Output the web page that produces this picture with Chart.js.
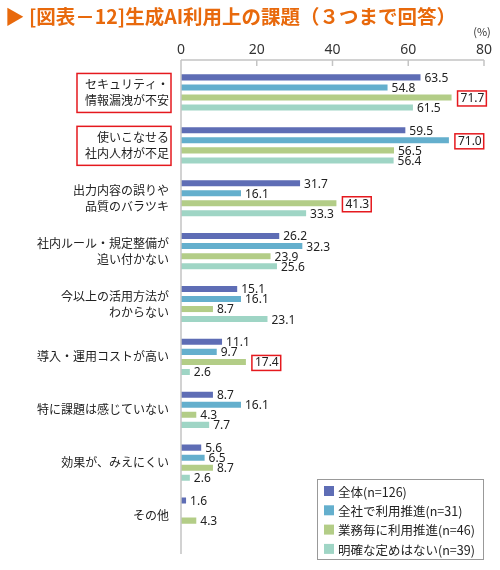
<!DOCTYPE html>
<html lang="ja">
<head>
<meta charset="utf-8">
<script src="https://cdn.jsdelivr.net/npm/chart.js@4.4.1/dist/chart.umd.min.js"></script>
<style>
  html, body { margin: 0; padding: 0; background: #fff; }
  #wrap { position: relative; width: 500px; height: 570px; }
  #title { position: absolute; left: 5px; top: 1px; font: bold 19.5px "Noto Sans CJK JP", sans-serif; color: #e8690c; white-space: nowrap; }
  canvas { position: absolute; left: 0; top: 0; }
</style>
</head>
<body>
<div id="wrap">
  <canvas id="chart" width="500" height="570"></canvas>
  <div id="title">▶ [図表－12]生成AI利用上の課題（３つまで回答）</div>
</div>
<script>
// ===== データ =====
const categorias = [
  ["セキュリティ・", "情報漏洩が不安"],
  ["使いこなせる", "社内人材が不足"],
  ["出力内容の誤りや", "品質のバラツキ"],
  ["社内ルール・規定整備が", "追い付かない"],
  ["今以上の活用方法が", "わからない"],
  "導入・運用コストが高い",
  "特に課題は感じていない",
  "効果が、みえにくい",
  "その他",
];

const serieNomes = [
  "全体(n=126)",
  "全社で利用推進(n=31)",
  "業務毎に利用推進(n=46)",
  "明確な定めはない(n=39)",
];

const zentai = [63.5, 59.5, 31.7, 26.2, 15.1, 11.1, 8.7, 5.6, 1.6];
const zenshaSuishin = [54.8, 71.0, 16.1, 32.3, 16.1, 9.7, 16.1, 6.5, null];
const gyomuSuishin = [71.7, 56.5, 41.3, 23.9, 8.7, 17.4, 4.3, 8.7, 4.3];
const sadameNashi = [61.5, 56.4, 33.3, 25.6, 23.1, 2.6, 7.7, 2.6, null];

const xTicks = [0, 20, 40, 60, 80];

// 赤枠で囲む項目 / 値 [系列, 項目]
const labelDestaque = [0, 1];
const valorDestaque = [[2, 0], [1, 1], [2, 2], [2, 5]];

const cores = ["#5e6db5", "#64afcd", "#b3cd87", "#9fd5c5"];
const vermelho = "#e5191e";
const fonte = '"Noto Sans CJK JP", sans-serif';
const fonteNum = '"Noto Sans", sans-serif';

Chart.defaults.font.family = fonte;

// ===== 描画プラグイン =====
const extrasPlugin = {
  id: "extras",
  afterDraw(chart) {
    const ctx = chart.ctx;
    const area = chart.chartArea;
    const xs = chart.scales.x;
    const ys = chart.scales.y;
    const topLine = area.top - 6;

    ctx.save();
    // 軸線
    ctx.strokeStyle = "#c4c4c4";
    ctx.lineWidth = 1.5;
    ctx.beginPath();
    ctx.moveTo(area.left, topLine);
    ctx.lineTo(xs.getPixelForValue(80), topLine);
    ctx.moveTo(area.left, topLine);
    ctx.lineTo(area.left, area.bottom + 12);
    xTicks.slice(1).forEach((t) => {
      const x = xs.getPixelForValue(t);
      ctx.moveTo(x, topLine);
      ctx.lineTo(x, topLine + 6);
    });
    ctx.stroke();

    // (%)
    ctx.fillStyle = "#333";
    ctx.font = "11px " + fonte;
    ctx.textAlign = "center";
    ctx.textBaseline = "middle";
    ctx.fillText("(%)", 482, 32);

    // 数値ラベル
    ctx.font = "12px " + fonteNum;
    ctx.textAlign = "left";
    ctx.fillStyle = "#222";
    chart.data.datasets.forEach((ds, di) => {
      const meta = chart.getDatasetMeta(di);
      meta.data.forEach((bar, i) => {
        const v = ds.data[i];
        if (v === null) return;
        const txt = v.toFixed(1);
        const boxed = valorDestaque.some((p) => p[0] === di && p[1] === i);
        const tx = bar.x + (boxed ? 8 : 3);
        const ty = bar.y + 1;
        ctx.fillText(txt, tx, ty);
        if (boxed) {
          const w = ctx.measureText(txt).width;
          ctx.strokeStyle = vermelho;
          ctx.lineWidth = 1.5;
          ctx.strokeRect(tx - 3, ty - 7.5, w + 5, 15);
        }
      });
    });

    // 項目ラベルの赤枠
    ctx.font = "12px " + fonte;
    labelDestaque.forEach((i) => {
      const linhas = categorias[i];
      const w = Math.max(...linhas.map((l) => ctx.measureText(l).width));
      const right = area.left - 10;
      const cy = ys.getPixelForValue(i);
      ctx.strokeStyle = vermelho;
      ctx.lineWidth = 1.5;
      ctx.strokeRect(right - w - 10, cy - 19, w + 10, 39);
    });

    // 凡例
    const lx = 317, ly = 479, lw = 166, lh = 80;
    ctx.fillStyle = "#fff";
    ctx.fillRect(lx, ly, lw, lh);
    ctx.strokeStyle = "#999";
    ctx.lineWidth = 1;
    ctx.strokeRect(lx + 0.5, ly + 0.5, lw, lh);
    ctx.font = "12.5px " + fonte;
    ctx.textBaseline = "middle";
    serieNomes.forEach((nome, k) => {
      const cy = ly + 12 + k * 19.3;
      ctx.fillStyle = cores[k];
      ctx.fillRect(lx + 7, cy - 5, 10, 10);
      ctx.fillStyle = "#222";
      ctx.fillText(nome, lx + 21, cy + 1);
    });
    ctx.restore();
  },
};

const series = [zentai, zenshaSuishin, gyomuSuishin, sadameNashi];

new Chart(document.getElementById("chart"), {
  type: "bar",
  data: {
    labels: categorias,
    datasets: series.map((d, k) => ({
      label: serieNomes[k],
      data: d,
      backgroundColor: cores[k],
      borderColor: "rgba(255,255,255,0.7)",
      borderWidth: 1,
      barPercentage: 0.8,
      categoryPercentage: 0.76,
    })),
  },
  options: {
    indexAxis: "y",
    responsive: false,
    animation: false,
    devicePixelRatio: 1,
    layout: { padding: { top: 0, left: 0, right: 16, bottom: 18 } },
    plugins: {
      legend: { display: false },
      tooltip: { enabled: false },
    },
    scales: {
      x: {
        position: "top",
        min: 0,
        max: 80,
        afterBuildTicks: (s) => { s.ticks = xTicks.map((v) => ({ value: v })); },
        ticks: { color: "#333", font: { family: fonteNum, size: 14 }, padding: 8 },
        grid: { display: false, drawTicks: false },
        border: { display: false },
        afterFit: (s) => { s.height = 66; },
      },
      y: {
        ticks: { color: "#222", font: { size: 12, lineHeight: 1.33 }, padding: 12, autoSkip: false },
        grid: { display: false, drawTicks: false },
        border: { display: false },
        afterFit: (s) => { s.width = 181; },
      },
    },
  },
  plugins: [extrasPlugin],
});
</script>
</body>
</html>
